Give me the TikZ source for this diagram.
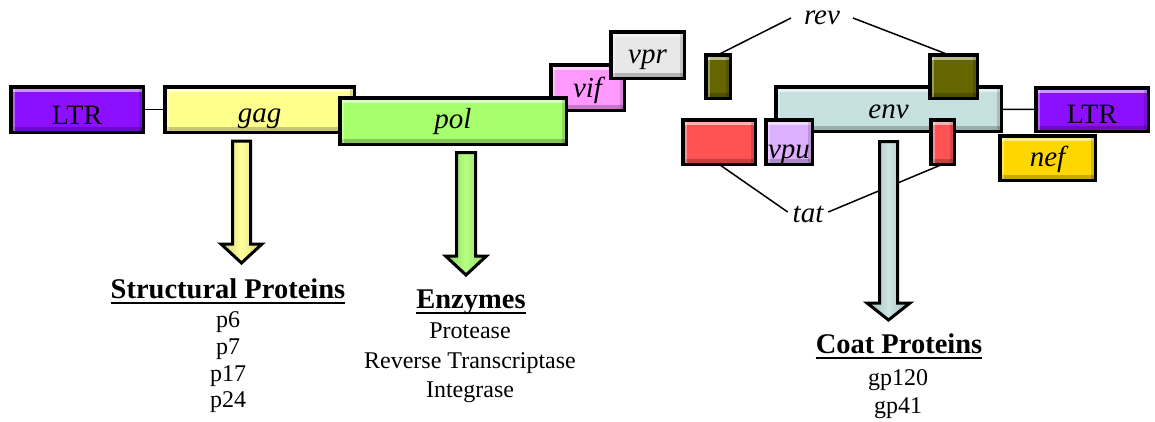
\documentclass[tikz,border=0pt]{standalone}
\usepackage{fontspec}
\setmainfont{Liberation Serif}
\definecolor{cLTR}{HTML}{8C10FF}
\definecolor{cGag}{HTML}{FFFF8C}
\definecolor{cPol}{HTML}{A8FF6E}
\definecolor{cVif}{HTML}{FF99FF}
\definecolor{cVpr}{HTML}{E8E8E8}
\definecolor{cRev}{HTML}{666600}
\definecolor{cEnv}{HTML}{C6E0E0}
\definecolor{cTat}{HTML}{FF5252}
\definecolor{cVpu}{HTML}{DDB0FF}
\definecolor{cNef}{HTML}{FFD700}
\begin{document}
\begin{tikzpicture}[x=1pt,y=-1pt,
  bevel/.style={path picture={
    \fill[white,opacity=.55] ([yshift=-1.5pt]path picture bounding box.north west) rectangle ([yshift=-5pt]path picture bounding box.north east);
    \fill[black,opacity=.22] ([yshift=1.5pt]path picture bounding box.south west) rectangle ([yshift=5pt]path picture bounding box.south east);
    \fill[white,opacity=.35] ([xshift=1.5pt]path picture bounding box.south west) rectangle ([xshift=4pt]path picture bounding box.north west);
    \fill[black,opacity=.15] ([xshift=-1.5pt]path picture bounding box.south east) rectangle ([xshift=-4pt]path picture bounding box.north east);
  }},
  gene/.style={draw=black, line width=3.5pt, inner sep=0pt, outer sep=0pt, bevel,
    font=\fontsize{29}{32}\selectfont\itshape, text depth=0pt},
  ltr/.style={gene, fill=cLTR, font=\fontsize{28}{30}\selectfont\upshape},
  barrow/.style={draw=black, line width=3pt, line join=miter,
    left color=#1!82!black, right color=#1!82!black, middle color=#1!85!white},
  conn/.style={draw=black, line width=1.5pt},
  lbl/.style={inner ysep=0pt, outer sep=0pt, text depth=0pt, font=\fontsize{29}{32}\selectfont\itshape},
  head/.style={inner sep=0pt, anchor=base, font=\fontsize{28.5}{30}\selectfont\bfseries},
  item/.style={inner sep=0pt, anchor=base, font=\fontsize{24}{26}\selectfont},
  uline/.style={line width=2.5pt}
]
\useasboundingbox (0,0) rectangle (1155,421);

% genes
\node[ltr, minimum width=132.5pt, minimum height=45.5pt, text height=29pt] (ltra) at (77,109.5) {LTR};
\node[gene, fill=cGag, minimum width=189.5pt, minimum height=45.5pt, text height=25pt] (gag) at (259.5,109.5) {gag};
\node[gene, fill=cVif, minimum width=73.5pt, minimum height=45.5pt, text height=19pt] (vif) at (587.5,87.5) {vif};
\node[gene, fill=cVpr, minimum width=73.5pt, minimum height=46.5pt, text height=16pt] (vpr) at (647.5,55) {vpr};
\node[gene, fill=cPol, minimum width=226.5pt, minimum height=46.5pt, text height=14pt] (pol) at (453,121) {pol};

\node[gene, fill=cRev, minimum width=24.5pt, minimum height=43.5pt] (revS) at (718,76.5) {};
\node[gene, fill=cTat, minimum width=72.5pt, minimum height=44.5pt] (tatB) at (719,142) {};
\node[gene, fill=cEnv, minimum width=225.5pt, minimum height=44.5pt, text height=18pt] (env) at (888.5,109) {env};
\node[gene, fill=cRev, minimum width=47.5pt, minimum height=43.5pt] (revB) at (953.5,76.5) {};
\node[gene, fill=cVpu, minimum width=46.5pt, minimum height=44.5pt, text height=32pt] (vpu) at (789,142) {vpu};
\node[gene, fill=cTat, minimum width=23.5pt, minimum height=44.5pt] (tatS) at (942.5,142) {};
\node[ltr, minimum width=112.5pt, minimum height=43.5pt, text height=27pt] (ltrb) at (1092,109.5) {LTR};
\node[gene, fill=cNef, minimum width=95.5pt, minimum height=44.5pt, text height=16pt] (nef) at (1047.5,158) {nef};

% joins
\draw[conn] (ltra) -- (gag);
\draw[conn] (env) -- (ltrb);

% rev / tat labels
\node[lbl, inner xsep=13pt, text height=12pt] (revl) at (822,18) {rev};
\node[lbl, inner xsep=5pt, text height=20pt] (tatl) at (808,212) {tat};
\draw[conn] (revl.west) -- (revS.north);
\draw[conn] (revl.east) -- ([xshift=-5pt]revB.north);
\draw[conn] (tatl.west) -- (tatB.south);
\draw[conn] (tatl.east) -- (tatS.south);

% block arrows
\draw[barrow=cGag] (232.5,141) -- (250.5,141) -- (250.5,244) -- (262,244) -- (241.5,263) -- (221,244) -- (232.5,244) -- cycle;
\draw[barrow=cPol] (456.5,152.5) -- (475.5,152.5) -- (475.5,256) -- (486.5,256) -- (466,275) -- (445.5,256) -- (456.5,256) -- cycle;
\draw[barrow=cEnv] (879.5,141.5) -- (897.5,141.5) -- (897.5,303) -- (910,303) -- (888.5,320) -- (867,303) -- (879.5,303) -- cycle;

% product lists
\node[head] (sp) at (228,298) {Structural Proteins};
\draw[uline] ([yshift=-5pt]sp.base west) -- ([yshift=-5pt]sp.base east);
\node[item] (p6) at (228,327) {p6};
\node[item] (p7) at (228,354) {p7};
\node[item] (p17) at (228,381) {p17};
\node[item] (p24) at (228,407) {p24};

\node[head] (enz) at (471,308) {Enzymes};
\draw[uline] ([yshift=-5pt]enz.base west) -- ([yshift=-5pt]enz.base east);
\node[item] (prot) at (470,338) {Protease};
\node[item] (rt) at (470,368) {Reverse Transcriptase};
\node[item] (intg) at (470,397) {Integrase};

\node[head] (cp) at (899,353) {Coat Proteins};
\draw[uline] ([yshift=-5pt]cp.base west) -- ([yshift=-5pt]cp.base east);
\node[item] (gp120) at (898,385) {gp120};
\node[item] (gp41) at (898,413) {gp41};
\end{tikzpicture}
\end{document}
